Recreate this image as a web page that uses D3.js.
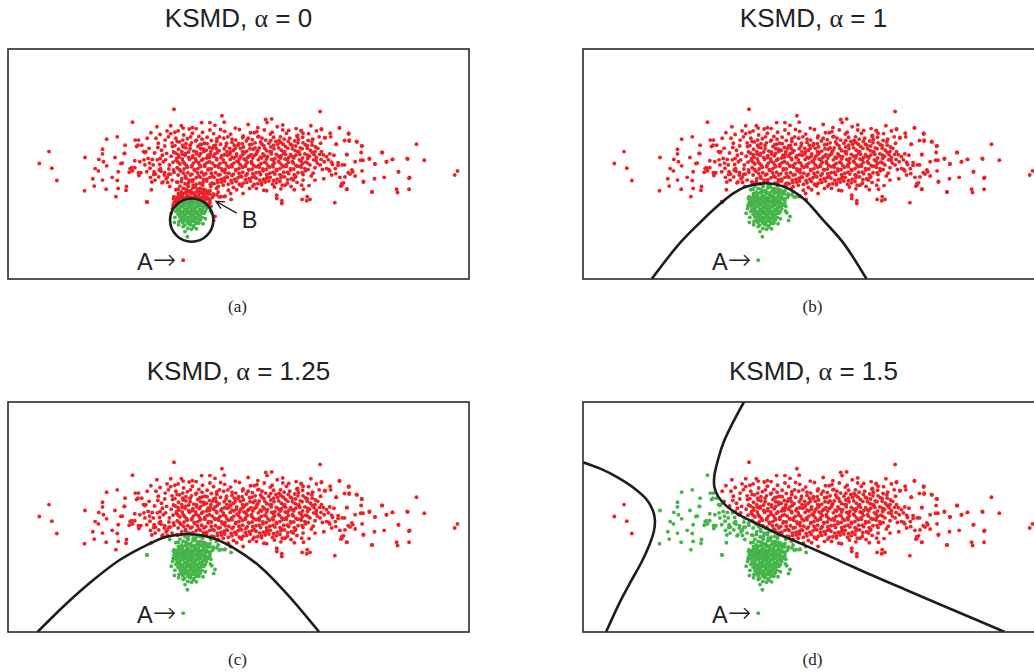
<!DOCTYPE html>
<html>
<head>
<meta charset="utf-8">
<script src="https://cdn.jsdelivr.net/npm/d3@7"></script>
<style>
	body { margin: 0; background: #fff; }
	svg { display: block; }
</style>
</head>
<body>
<svg id="chart" width="1034" height="672"></svg>
<script>

/**************************************************
 * 	DATA (x 0..100, y 0..50)
 **************************************************/

// broad cloud (class 1)
var cloud = [
	// far left + left wing
	[6.8,25.1],[8.9,27.7],[9.5,24.1],[10.6,21.4],[16.6,19.2],[16.7,26.4],[18.4,21.8],[18.7,20.2],
	[18.9,24.0],[19.6,23.5],[19.7,26.0],[20.5,27.2],[20.5,28.2],[20.7,25.5],[20.5,21.5],[21.4,30.4],
	[21.3,19.5],[21.4,24.6],[22.6,22.1],[23.2,26.4],[23.4,17.9],[23.7,21.4],[23.9,23.3],[23.7,30.9],
	[23.9,19.7],[24.5,25.1],[25.2,27.3],[25.4,29.1],[25.7,20.1],[25.6,19.3],[26.3,23.2],[26.5,24.0],
	[27.0,34.1],[27.0,23.5],[27.5,25.7],[27.6,30.2],[28.3,30.2],[27.9,28.8],[28.6,25.5],[28.3,23.1],
	[29.0,29.1],[29.4,27.7],[29.9,27.7],[30.1,16.8],[29.7,24.8],[30.1,23.3],[30.4,26.2],[30.8,24.1],
	[30.9,22.1],[31.2,21.1],[31.9,21.5],[31.5,24.8],[32.3,33.1],[32.6,29.5],[33.0,26.2],[32.8,23.7],
	[33.3,28.0],[33.6,21.1],[33.7,25.5],[34.1,30.2],[34.4,27.3],[34.6,22.2],[35.0,24.8],[35.1,20.1],
	[35.3,33.3],[35.7,28.8],[35.9,23.7],[36.0,36.9],[36.2,31.9],[36.6,26.2],[36.6,21.1],[36.7,29.9],
	[36.9,19.5],[30.2,16.7],[27.5,24.2],[28.2,29.1],[29.5,25.9],[31.1,19.4],[32.4,25.9],[33.4,20.9],
	[34.0,23.1],[34.3,21.8],[34.9,22.8],[35.6,21.5],[36.0,23.2],[31.7,23.3],[32.0,22.8],[32.7,22.2],
	[33.1,24.0],[24.8,25.2],[25.3,27.3],[26.8,24.2],[28.8,23.1],[30.7,25.2],[29.7,27.5],[28.4,22.5],
	[31.8,27.4],[32.1,30.6],[32.9,24.9],[33.5,26.9],[34.0,28.9],[34.2,25.9],[34.8,30.9],[34.9,23.9],
	[35.4,26.7],[35.6,29.6],[35.2,22.8],[35.8,25.4],[33.9,22.6],[32.5,28.6],[31.3,26.0],[30.6,28.4],
	[30.2,30.6],[31.0,31.8],[33.0,31.4],[34.5,32.2],[35.9,27.6],[35.3,31.6],[34.6,21.0],[33.2,23.4],
	[31.6,22.7],
	// top outliers
	[46.4,35.5],[46.9,34.1],[43.8,34.0],[42.0,34.0],[38.0,32.8],[40.0,32.9],[46.1,32.5],[55.9,34.7],
	[57.2,34.8],[56.2,34.0],[59.6,33.5],[59.6,32.4],[54.2,32.9],[54.0,32.0],[63.6,32.2],[62.7,31.1],
	// bottom outliers
	[59.4,17.0],[58.3,18.2],[64.1,19.5],[64.9,17.9],[63.8,17.3],[53.9,19.7],[56.1,19.2],[50.7,20.2],
	[51.0,18.6],[47.8,19.3],[45.6,20.1],[43.5,19.0],[42.4,19.5],[44.2,20.8],[61.9,21.5],[63.7,20.4],
	[60.1,20.4],[66.6,21.5],[65.5,17.3],[64.8,17.0],[58.3,17.5],[59.4,16.4],
	// dense core, first pass
	[37.6,33.3],[40.8,32.7],[44.9,33.4],[49.3,32.8],[52.1,33.6],[58.4,33.1],[62.5,32.7],[65.7,33.3],
	[36.9,32.2],[39.3,32.6],[42.2,31.9],[43.8,32.4],[47.0,32.1],[50.2,32.5],[53.4,31.8],[55.6,32.4],
	[57.3,31.9],[60.9,32.3],[64.0,31.7],[66.9,32.2],
	[38.1,31.3],[40.0,31.7],[41.4,31.0],[44.6,31.6],[45.9,30.9],[48.3,31.5],[51.0,31.1],[52.6,31.8],
	[54.4,31.0],[56.9,31.5],[59.1,30.9],[60.4,31.7],[62.8,31.2],[65.2,31.6],[67.5,30.9],
	[36.4,30.6],[37.9,30.2],[39.6,30.9],[42.1,30.4],[43.2,30.8],[44.1,30.1],[46.8,30.6],[47.7,30.9],
	[49.4,30.2],[50.9,30.7],[53.0,30.3],[54.2,30.9],[55.9,30.2],[57.6,30.8],[58.8,30.1],[61.1,30.6],
	[62.2,30.0],[63.9,30.8],[66.1,30.4],
	[37.2,29.8],[38.6,29.4],[40.7,30.0],[42.6,29.5],[45.3,29.9],[46.1,29.3],[48.6,29.7],[50.0,29.4],
	[51.7,30.0],[52.9,29.3],[54.8,29.8],[56.6,29.5],[58.1,29.9],[59.7,29.3],[60.8,29.9],[62.9,29.6],
	[64.5,29.2],[65.9,29.8],[67.8,29.5],
	[36.2,29.0],[38.0,28.7],[39.5,29.1],[41.2,28.8],[42.0,29.3],[43.7,28.6],[45.0,29.1],[47.3,28.9],
	[48.1,28.4],[49.9,29.0],[51.1,28.7],[52.4,29.2],[53.6,28.5],[55.5,29.0],[57.0,28.7],[58.5,29.3],
	[60.2,28.8],[61.6,29.1],[63.4,28.5],[64.9,29.0],[66.7,28.7],
	[37.0,28.2],[38.6,28.5],[40.3,27.8],[41.8,28.3],[43.0,28.0],[44.4,28.4],[45.8,27.9],[46.9,28.3],
	[48.9,28.0],[50.4,28.4],[51.8,27.8],[53.2,28.2],[54.5,28.5],[56.1,27.9],[57.7,28.3],[59.3,28.0],
	[60.7,28.4],[62.3,27.9],[63.8,28.3],[65.6,28.0],[67.2,28.4],
	[36.3,27.4],[37.8,27.1],[39.2,27.6],[40.9,27.2],[42.5,27.7],[43.9,27.1],[45.4,27.5],[47.0,27.0],
	[48.3,27.6],[49.6,27.2],[51.3,27.5],[52.7,27.0],[54.0,27.6],[55.3,27.2],[56.8,27.7],[58.2,27.1],
	[59.8,27.4],[61.3,27.0],[62.9,27.6],[64.4,27.2],[66.0,27.5],[67.6,27.1],
	[37.1,26.5],[38.4,26.9],[40.0,26.4],[41.5,26.8],[43.1,26.3],[44.6,26.7],[46.2,26.4],[47.6,26.9],
	[49.0,26.3],[50.5,26.7],[52.0,26.4],[53.5,26.9],[55.0,26.3],[56.3,26.6],[57.9,26.2],[59.3,26.8],
	[60.9,26.4],[62.4,26.9],[63.9,26.3],[65.4,26.7],[66.9,26.4],
	[36.5,25.8],[38.0,25.5],[39.4,26.0],[40.8,25.6],[42.3,26.1],[43.7,25.5],[45.3,25.9],[46.8,25.4],
	[48.2,26.0],[49.7,25.6],[51.2,26.1],[52.8,25.5],[54.3,25.9],[55.7,25.4],[57.2,26.0],[58.7,25.6],
	[60.1,26.1],[61.7,25.5],[63.2,25.9],[64.6,25.4],[66.3,25.9],
	[37.3,25.0],[38.7,24.7],[40.2,25.2],[41.6,24.8],[43.2,25.3],[44.8,24.7],[46.0,25.1],[47.5,24.6],
	[49.0,25.2],[50.4,24.8],[51.9,25.3],[53.3,24.7],[54.9,25.1],[56.4,24.6],[57.8,25.2],[59.4,24.8],
	[60.8,25.3],[62.5,24.7],[63.9,25.1],[65.5,24.8],[67.1,25.2],
	[36.7,24.2],[38.2,23.9],[39.8,24.4],[41.2,24.0],[42.7,24.5],[44.1,23.9],[45.7,24.3],[47.1,23.8],
	[48.6,24.4],[50.1,24.0],[51.5,24.5],[53.0,23.9],[54.5,24.3],[56.0,23.8],[57.5,24.4],[59.0,24.0],
	[60.4,24.5],[62.0,23.9],[63.6,24.3],[65.1,23.8],[66.6,24.2],
	[37.5,23.4],[39.0,23.1],[40.5,23.6],[42.0,23.2],[43.4,23.7],[45.0,23.1],[46.5,23.5],[47.9,23.0],
	[49.4,23.6],[50.9,23.2],[52.3,23.7],[53.8,23.1],[55.3,23.5],[56.8,23.0],[58.3,23.6],[59.8,23.2],
	[61.3,23.7],[62.9,23.1],[64.5,23.5],[66.2,23.0],
	[36.9,22.6],[38.5,22.3],[39.9,22.8],[41.4,22.4],[42.9,22.9],[44.4,22.3],[46.0,22.7],[47.4,22.2],
	[48.9,22.8],[50.4,22.4],[51.9,22.9],[53.4,22.3],[54.8,22.7],[56.3,22.2],[57.9,22.8],[59.3,22.4],
	[60.9,22.9],[62.4,22.3],[64.0,22.7],[65.8,22.4],
	[37.7,21.8],[39.3,21.5],[40.8,22.0],[42.4,21.6],[43.8,22.1],[45.4,21.5],[46.9,21.9],[48.4,21.4],
	[49.9,22.0],[51.5,21.6],[53.0,22.1],[54.6,21.5],[56.1,21.9],[57.6,21.4],[59.2,22.0],[60.7,21.6],
	[62.3,22.1],[64.0,21.5],
	[36.8,21.0],[38.4,20.7],[40.0,21.2],[41.6,20.8],[43.1,21.3],[44.7,20.7],[46.3,21.1],[47.8,20.6],
	[49.5,21.2],[51.0,20.8],[52.6,21.3],[54.2,20.7],[55.8,21.1],[57.4,20.6],[59.0,21.2],[60.6,20.8],
	[62.7,21.0],
	[37.3,20.2],[39.0,20.5],[40.6,20.0],[42.2,20.4],[44.0,20.1],[46.7,20.4],[48.9,19.9],[50.3,20.5],
	[53.1,20.2],[55.0,20.5],[57.8,20.0],[59.5,20.4],[61.4,20.1],[65.3,20.3],
	[36.4,19.4],[38.0,19.7],[39.6,19.2],[41.2,19.6],[42.9,19.3],[45.2,19.7],[49.6,19.4],[52.4,19.7],
	[55.5,19.3],[59.2,19.6],[62.1,19.4],
	[37.0,18.6],[38.7,18.9],[40.4,18.4],[42.1,18.8],[43.7,18.5],[45.6,18.9],[48.3,18.6],
	[36.0,17.9],[37.8,18.1],[39.5,17.7],[41.3,18.0],[43.0,17.8],[44.5,18.1],
	// dense core, second pass
	[38.9,30.5],[40.9,30.2],[45.3,30.5],[48.6,30.4],[52.1,30.6],[55.1,30.6],[57.0,30.1],[59.9,30.4],
	[63.0,30.3],[65.1,30.1],
	[37.9,29.1],[39.8,29.6],[41.6,29.2],[43.2,29.4],[44.6,28.9],[47.4,29.5],[49.1,29.1],[50.8,29.4],
	[53.6,29.6],[55.1,29.3],[57.6,29.1],[59.2,29.7],[61.3,29.3],[62.4,28.9],[64.0,29.6],[66.0,29.1],
	[37.7,27.7],[39.5,28.3],[40.9,27.6],[42.4,28.2],[44.0,27.7],[45.2,28.3],[47.5,27.7],[49.3,28.4],
	[50.9,27.7],[52.5,28.3],[54.2,27.9],[55.7,28.4],[57.1,27.7],[58.7,28.5],[60.0,27.7],[61.7,28.3],
	[63.1,27.6],[64.9,28.4],[66.6,27.7],
	[36.9,27.0],[38.5,27.3],[40.1,26.8],[41.8,27.3],[43.4,26.9],[44.9,27.2],[46.4,26.8],[48.1,27.2],
	[49.5,26.7],[51.0,27.1],[52.3,26.7],[53.9,27.2],[55.6,26.8],[57.1,27.2],[58.7,26.7],[60.2,27.1],
	[61.7,26.6],[63.3,27.1],[65.0,26.9],[66.4,27.0],
	[37.8,26.1],[39.2,26.4],[40.7,26.1],[42.0,25.8],[43.7,26.4],[45.2,26.2],[46.7,25.9],[48.6,26.5],
	[50.2,26.1],[51.6,25.8],[53.1,26.3],[54.7,26.5],[56.1,26.1],[57.6,25.7],[59.1,26.3],[60.6,25.9],
	[62.0,26.3],[63.6,25.6],[65.0,26.2],[66.8,25.8],
	[36.9,25.4],[38.3,25.1],[39.9,24.7],[41.3,25.3],[42.7,24.9],[44.3,25.2],[45.6,24.7],[47.2,25.2],
	[48.5,24.8],[50.0,25.3],[51.5,24.8],[52.9,25.1],[54.4,24.7],[56.0,25.2],[57.4,24.8],[58.9,25.3],
	[60.3,24.8],[61.9,25.2],[63.5,24.6],[65.0,25.2],
	[37.2,23.8],[38.9,24.3],[40.4,23.8],[41.8,24.4],[43.5,24.0],[44.9,24.5],[46.4,23.9],[47.9,24.3],
	[49.4,23.8],[50.9,24.3],[52.2,23.8],[53.8,24.4],[55.3,23.9],[56.7,24.3],[58.2,23.8],[59.7,24.4],
	[61.3,24.0],[62.8,24.5],[64.4,24.0],
	[38.1,23.0],[39.6,22.6],[41.1,23.1],[42.5,22.6],[44.1,23.0],[45.6,22.6],[47.1,23.1],[48.6,22.5],
	[50.1,23.0],[51.6,22.5],[53.1,22.9],[54.5,23.2],[56.1,22.7],[57.5,23.2],[59.0,22.7],[60.6,23.2],
	[62.1,22.7],[63.8,23.1],
	[38.6,21.9],[40.1,21.6],[41.7,22.1],[43.1,21.7],[44.7,22.1],[46.2,21.7],[47.6,22.1],[49.2,21.7],
	[50.7,22.2],[52.3,21.8],[53.8,21.9],[55.4,21.7],[56.9,22.1],[58.4,21.7],[60.0,22.2],[61.5,21.8],
	[37.6,21.2],[39.2,21.0],[40.8,20.6],[42.3,21.0],[43.9,20.6],[45.5,21.0],[47.0,21.3],[48.6,20.9],
	[50.2,20.6],[51.8,21.0],[53.4,20.6],[55.0,20.9],[56.6,21.3],[58.2,20.9],
	// right wing
	[67.7,36.4],[71.9,32.9],[68.0,32.5],[69.9,31.7],[68.7,30.7],[73.9,31.7],[73.0,30.1],[74.0,30.0],
	[75.7,29.8],[76.8,28.9],[71.2,29.3],[88.6,29.3],[81.1,27.5],[76.6,27.5],[73.5,27.1],[78.4,26.1],
	[68.0,27.7],[68.4,27.0],[69.1,26.6],[69.8,27.2],[70.7,26.9],[69.5,25.9],[68.6,25.5],[67.9,26.0],
	[70.2,25.4],[71.6,25.3],[72.5,24.8],[73.0,24.8],[75.3,25.5],[76.5,25.8],[77.0,25.8],[79.6,25.0],
	[82.1,25.5],[83.4,26.0],[86.7,26.1],[90.3,25.8],[96.9,22.6],[97.5,23.5],[84.7,23.3],[87.0,21.9],
	[87.0,19.5],[84.3,19.5],[84.5,18.8],[81.6,22.1],[79.5,21.8],[78.9,18.9],[77.1,21.2],[76.8,23.5],
	[75.3,22.4],[74.6,23.7],[74.8,23.3],[73.8,23.1],[74.2,22.8],[73.1,22.2],[73.5,19.5],[72.2,20.2],
	[72.4,20.7],[72.8,20.9],[72.0,22.1],[71.0,24.0],[71.6,24.7],[70.4,24.9],[69.1,24.0],[68.2,23.8],
	[68.5,21.8],[70.2,22.6],[71.1,22.9],[70.9,16.6],[69.6,23.8],[69.8,23.5],[67.7,24.8],[68.8,30.7],
	[70.0,30.9],[71.2,29.3],[73.5,27.0],[75.6,29.9],[74.0,30.2],[73.9,31.5],[71.9,32.8],[68.0,32.6],
	[86.6,26.2],[84.7,23.3],[87.1,22.1],[81.2,27.5],[83.4,26.0],[82.1,25.5],[79.0,18.9],[79.6,25.0],
	[78.4,26.2],[76.7,28.9],[77.1,21.1],[73.5,19.5],[72.4,20.3],[63.6,32.3],[62.8,30.9]
];

// compact cluster (class 2)
var cluster = [
	[38.6,19.5],[40.1,19.8],[41.4,19.4],[39.1,20.1],[40.2,20.4],[41.7,19.7],
	[37.6,18.9],[38.9,19.2],[39.9,18.8],[41.0,19.1],[42.3,18.9],[43.8,19.2],
	[37.0,18.3],[38.0,18.6],[38.9,18.2],[39.7,18.5],[40.6,18.3],[41.5,18.6],[42.4,18.2],[43.3,18.5],
	[36.6,17.7],[37.4,18.0],[38.3,17.6],[39.1,17.9],[39.9,17.6],[40.8,17.9],[41.6,17.6],[42.5,17.8],[43.4,17.5],
	[36.3,17.1],[37.1,17.4],[37.9,17.0],[38.7,17.3],[39.5,17.1],[40.3,17.4],[41.1,17.0],[41.9,17.3],[42.7,17.1],[43.6,17.3],
	[36.6,16.5],[37.4,16.8],[38.2,16.4],[39.0,16.7],[39.8,16.5],[40.6,16.8],[41.4,16.4],[42.2,16.7],[43.0,16.5],
	[36.2,15.9],[37.0,16.2],[37.8,15.8],[38.6,16.1],[39.4,15.9],[40.2,16.2],[41.0,15.8],[41.8,16.1],[42.6,15.9],[43.5,16.1],
	[36.7,15.3],[37.5,15.6],[38.3,15.2],[39.1,15.5],[39.9,15.3],[40.7,15.6],[41.5,15.2],[42.3,15.5],[43.1,15.3],
	[36.4,14.7],[37.2,15.0],[38.0,14.6],[38.8,14.9],[39.6,14.7],[40.4,15.0],[41.2,14.6],[42.0,14.9],[42.8,14.7],
	[36.9,14.1],[37.7,14.4],[38.5,14.0],[39.3,14.3],[40.1,14.1],[40.9,14.4],[41.7,14.0],[42.5,14.3],
	[37.3,13.5],[38.1,13.8],[38.9,13.4],[39.7,13.7],[40.5,13.5],[41.3,13.8],[42.1,13.4],
	[37.6,12.9],[38.4,13.2],[39.2,12.8],[40.0,13.1],[40.8,12.9],[41.6,13.1],
	[37.9,12.3],[38.8,12.6],[39.6,12.2],[40.5,12.5],[41.3,12.3],
	[38.3,11.7],[39.4,11.9],[40.3,11.6],
	[37.0,17.7],[37.8,17.4],[38.7,17.7],[39.5,17.5],[40.4,17.8],[41.2,17.5],[42.0,17.7],[42.9,17.5],
	[36.8,16.9],[37.6,16.5],[38.5,16.9],[39.3,16.4],[40.1,16.9],[41.0,16.5],[41.8,16.9],[42.6,16.4],
	[36.6,15.9],[37.4,15.5],[38.2,15.9],[39.0,15.4],[39.8,15.8],[40.6,15.4],[41.4,15.9],[42.2,15.4],[43.0,15.8],
	[36.8,14.9],[37.6,14.6],[38.4,15.0],[39.2,14.6],[40.0,15.0],[40.8,14.6],[41.6,15.0],[42.4,14.6],
	[37.2,14.2],[38.0,13.9],[38.8,14.3],[39.6,13.9],[40.4,14.3],[41.2,13.9],[42.0,14.3],
	[37.6,13.4],[38.5,13.0],[39.3,13.4],[40.1,12.9],[40.9,13.3],[41.7,12.8],
	[38.1,12.6],[39.0,12.2],[39.9,12.6],[40.8,12.1],
	[38.6,18.8],[39.4,19.0],[40.5,18.7],[41.7,18.9],[42.9,18.7],
	[36.0,16.6],[35.7,15.3],[43.8,16.6],[43.9,14.8],[44.3,17.7],[36.2,13.4],[37.1,12.5],[42.8,13.1],
	[42.3,12.0],[39.0,11.0],[40.9,10.9],
	[35.4,14.3],[36.1,12.3],[38.9,9.2],[38.4,10.3],[39.8,10.8],[44.2,14.4],[44.6,12.7],[44.9,13.6],
	[46.2,17.9],[46.9,17.9],[45.3,18.3],[43.8,17.2],[37.0,11.8],[38.0,11.4],[39.6,11.8],[40.3,11.3],
	[41.4,12.1],[35.8,16.0],[44.0,15.8],[35.9,17.5],[48.4,17.3],[47.1,18.0],[45.8,17.8],[44.5,18.5]
];

var pointA = [38.0, 4.1];

// panel texts
var alphas = ["0", "1", "1.25", "1.5"];
var captions = ["(a)", "(b)", "(c)", "(d)"];

// decision boundaries
var circleA = { cx: 39.85, cy: 12.8, r: 4.7 };
var curveB = [[14.9,0],[21.0,7.8],[25.5,12.4],[29.0,15.7],[32.6,18.6],[35.5,20.1],[39.8,20.8],
	[43.5,20.1],[47.8,17.5],[52.1,12.8],[56.5,7.8],[61.5,0]];
var curveC = [[6.4,0],[12.7,6.2],[18.5,11.3],[24.3,15.7],[30.1,18.9],[34.4,20.7],[39.5,21.3],
	[44.5,20.4],[48.9,18.3],[54.7,14.2],[60.4,8.4],[67.5,0]];
var curveDleft = [[0,36.9],[4.0,35.4],[7.5,33.6],[11.3,31.1],[13.8,28.8],[15.2,26.3],[15.6,24.3],
	[15.4,22.0],[14.5,19.2],[12.6,15.0],[10.5,11.2],[8.0,6.5],[5.0,0]];
var curveDright = [[34.9,50],[32.5,45.5],[30.6,41.5],[29.3,37.5],[28.5,34.0],[28.5,31.5],[29.3,29.5],
	[30.8,27.7],[33.3,25.8],[37.6,23.6],[41.9,21.5],[47.8,19.0],[55.0,15.8],[62.3,12.5],[69.5,9.4],
	[76.7,6.3],[84.0,3.2],[91.5,0]];

// annotations
var labelA = { text: "A", arrow: "\u2192", at: pointA };
var labelB = { text: "B", at: [50.7, 11.1], from: [49.6, 14.3], to: [45.1, 16.9] };


/**************************************************
 * 	LAYOUT
 **************************************************/

var W = 461, H = 230;
var panels = [
	{ x: 8, y: 49 }, { x: 583, y: 49 },
	{ x: 8, y: 402 }, { x: 583, y: 402 }
];
var red = "#ec2228", green = "#45b549", ink = "#1e1e1e";

var xScale = d3.scaleLinear().domain([0, 100]).range([0, W]);
var yScale = d3.scaleLinear().domain([0, 50]).range([H, 0]);

var line = d3.line()
	.x(function(d) { return xScale(d[0]); })
	.y(function(d) { return yScale(d[1]); })
	.curve(d3.curveCatmullRom.alpha(0.5));

var svg = d3.select("#chart");

// green-region tests, one per panel
var polyD = [[0, 50]].concat(curveDleft).concat(curveDright.slice().reverse());
var inGreen = [
	function(d) {
		var dx = xScale(d[0]) - xScale(circleA.cx), dy = yScale(d[1]) - yScale(circleA.cy);
		return Math.sqrt(dx * dx + dy * dy) < xScale(circleA.r) - xScale(0);
	},
	function(d) { return d3.polygonContains(curveB, d); },
	function(d) { return d3.polygonContains(curveC, d); },
	function(d) { return d3.polygonContains(polyD, d); }
];

var allPts = cloud.concat(cluster).concat([pointA]);

panels.forEach(function(p, i) {
	var g = svg.append("g").attr("transform", "translate(" + p.x + "," + p.y + ")");

	g.append("clipPath").attr("id", "clip" + i)
		.append("rect").attr("width", W).attr("height", H);

	var plot = g.append("g").attr("clip-path", "url(#clip" + i + ")");

	// points
	plot.selectAll("circle.pt")
		.data(allPts).enter()
		.append("circle")
		.attr("class", "pt")
		.attr("cx", function(d) { return xScale(d[0]); })
		.attr("cy", function(d) { return yScale(d[1]); })
		.attr("r", 1.95)
		.attr("fill", function(d) { return inGreen[i](d) ? green : red; });

	// boundary
	var bstyle = function(sel) {
		return sel.attr("fill", "none").attr("stroke", ink).attr("stroke-width", 2.6);
	};
	if (i === 0) {
		bstyle(plot.append("circle"))
			.attr("cx", xScale(circleA.cx)).attr("cy", yScale(circleA.cy))
			.attr("r", xScale(circleA.r) - xScale(0));
	} else if (i === 1) {
		bstyle(plot.append("path")).attr("d", line(curveB));
	} else if (i === 2) {
		bstyle(plot.append("path")).attr("d", line(curveC));
	} else {
		bstyle(plot.append("path")).attr("d", line(curveDleft));
		bstyle(plot.append("path")).attr("d", line(curveDright));
	}

	// frame
	g.append("rect").attr("width", W).attr("height", H)
		.attr("fill", "none").attr("stroke", "#2a2a2a").attr("stroke-width", 1.6);

	// title
	var t = g.append("text")
		.attr("x", W / 2).attr("y", -22)
		.attr("text-anchor", "middle")
		.style("font-family", "'Liberation Sans', Arial, sans-serif")
		.style("font-size", "26px").attr("fill", "#222");
	t.append("tspan").text("KSMD, ");
	t.append("tspan").style("font-family", "'Liberation Serif', serif").text("\u03b1");
	t.append("tspan").text(" = " + alphas[i]);

	// caption
	g.append("text")
		.attr("x", W / 2 - 1).attr("y", H + 33)
		.attr("text-anchor", "middle")
		.style("font-family", "'Liberation Serif', 'Times New Roman', serif")
		.style("font-size", "17px").attr("fill", "#222")
		.text(captions[i]);

	// A label
	var a = g.append("text")
		.attr("x", xScale(labelA.at[0]) - 7).attr("y", yScale(labelA.at[1]) + 10)
		.attr("text-anchor", "end")
		.style("font-family", "'Liberation Sans', Arial, sans-serif")
		.style("font-size", "23.5px").attr("fill", "#222");
	a.append("tspan").text(labelA.text);
	a.append("tspan")
		.style("font-family", "'DejaVu Sans', sans-serif")
		.style("font-weight", "200")
		.style("font-size", "28px")
		.attr("dy", -1)
		.text(labelA.arrow);

	// B label with arrow (panel a only)
	if (i === 0) {
		var x1 = xScale(labelB.from[0]), y1 = yScale(labelB.from[1]),
			x2 = xScale(labelB.to[0]), y2 = yScale(labelB.to[1]);
		var ang = Math.atan2(y1 - y2, x1 - x2), hl = 9, ha = 0.45;
		g.append("path")
			.attr("d", "M" + x1 + "," + y1 + "L" + x2 + "," + y2 +
				"M" + (x2 + hl * Math.cos(ang - ha)) + "," + (y2 + hl * Math.sin(ang - ha)) +
				"L" + x2 + "," + y2 +
				"L" + (x2 + hl * Math.cos(ang + ha)) + "," + (y2 + hl * Math.sin(ang + ha)))
			.attr("fill", "none").attr("stroke", ink).attr("stroke-width", 1.4);
		g.append("text")
			.attr("x", xScale(labelB.at[0])).attr("y", yScale(labelB.at[1]))
			.style("font-family", "'Liberation Sans', Arial, sans-serif")
			.style("font-size", "23.5px").attr("fill", "#222")
			.text(labelB.text);
	}
});

</script>
</body>
</html>
